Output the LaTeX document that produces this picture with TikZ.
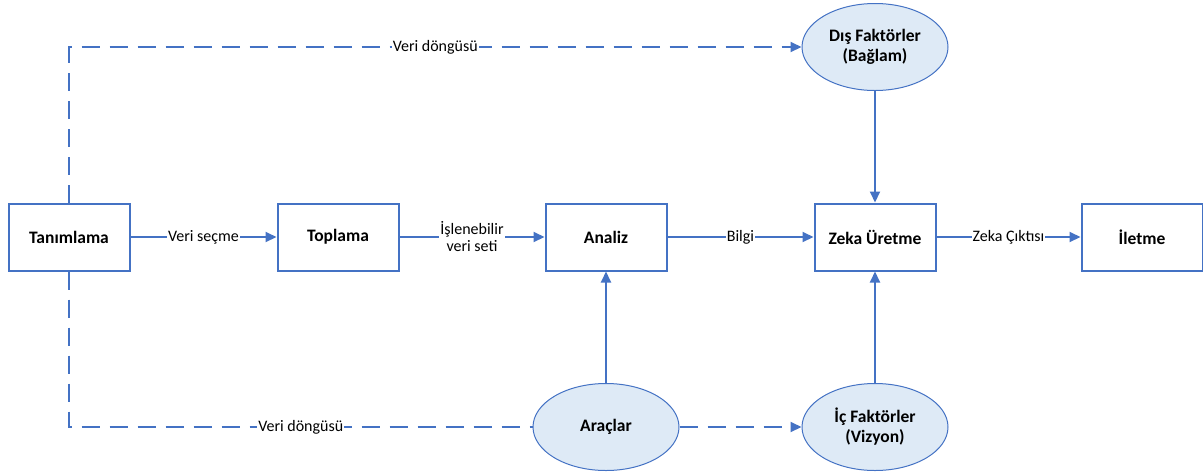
\documentclass[tikz,border=0pt]{standalone}
\usepackage{fontspec}
\setmainfont{Carlito}
\usetikzlibrary{arrows.meta,shapes.geometric}
\definecolor{lblue}{HTML}{4472C4}
\definecolor{efill}{HTML}{DEEAF6}
\begin{document}
\begin{tikzpicture}[x=1pt,y=-1pt,
  procbox/.style={draw=lblue,line width=2pt,fill=white,minimum width=121pt,minimum height=67pt,inner sep=0pt,font=\fontsize{17.5}{20}\selectfont\bfseries},
  oval/.style={ellipse,draw=lblue,line width=1pt,fill=efill,minimum width=146pt,minimum height=87pt,inner sep=0pt,align=center,font=\fontsize{17.5}{20}\selectfont\bfseries},
  conn/.style={draw=lblue,line width=2pt,-{Triangle[length=11pt,width=10pt]}},
  dconn/.style={conn,dash pattern=on 18pt off 10pt},
  dline/.style={draw=lblue,line width=2pt,dash pattern=on 18pt off 10pt},
  lbl/.style={fill=white,inner sep=1pt,font=\fontsize{16}{17}\selectfont,align=center}]
\useasboundingbox (0,0) rectangle (1203,475);
\node[procbox] (tan) at (69,237) {Tanımlama};
\node[procbox] (top) at (338,237) {Toplama};
\node[procbox] (ana) at (606,237) {Analiz};
\node[procbox] (zek) at (875,237) {Zeka Üretme};
\node[procbox] (ile) at (1142,237) {İletme};
\node[oval] (dis) at (875,47) {Dış Faktörler\\(Bağlam)};
\node[oval] (ara) at (606,427) {Araçlar};
\node[oval] (ic) at (875,427) {İç Faktörler\\(Vizyon)};
\coordinate (c1) at (69,47);
\coordinate (c2) at (69,427);
\draw[conn] (tan) -- node[lbl] {Veri seçme} (top);
\draw[conn] (top) -- node[lbl] {İşlenebilir\\veri seti} (ana);
\draw[conn] (ana) -- node[lbl] {Bilgi} (zek);
\draw[conn] (zek) -- node[lbl] {Zeka Çıktısı} (ile);
\draw[conn] (dis) -- (zek);
\draw[conn] (ic) -- (zek);
\draw[conn] (ara) -- (ana);
\draw[dconn] (tan.north) -- (c1) -- node[lbl,pos=0.5] {Veri döngüsü} (dis.west);
\draw[dline] (tan.south) -- (c2) -- node[lbl,pos=0.5] {Veri döngüsü} (ara.west);
\draw[dconn] (ara.east) -- (ic.west);
\end{tikzpicture}
\end{document}
